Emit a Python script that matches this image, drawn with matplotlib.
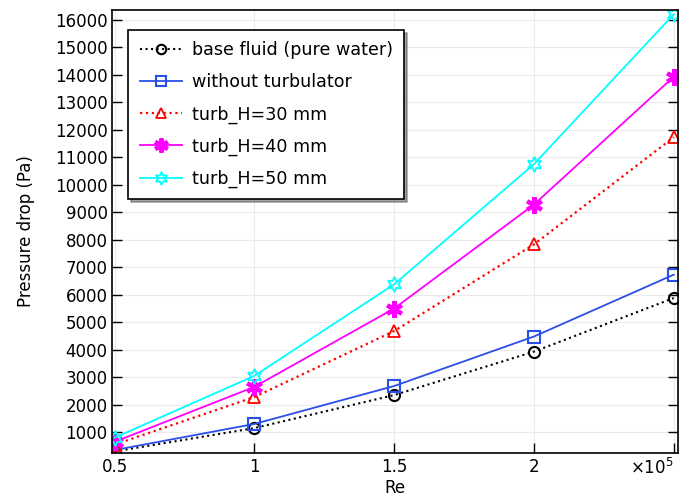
import matplotlib
matplotlib.use('Agg')
import matplotlib.pyplot as plt
import numpy as np

re_vals = [0.5, 1.0, 1.5, 2.0, 2.5]
base_fluid = [300, 1150, 2350, 3930, 5880]
no_turb = [350, 1300, 2680, 4480, 6730]
turb_30 = [550, 2280, 4680, 7830, 11730]
turb_40 = [650, 2650, 5500, 9280, 13930]
turb_50 = [800, 3050, 6380, 10750, 16200]

x_ticks = [0.5, 1, 1.5, 2, 2.5]
x_labels = ['0.5', '1', '1.5', '2', r'$\times$10$^5$']
y_ticks = np.arange(1000, 17000, 1000)

fig = plt.figure(figsize=(6.81, 4.99), dpi=100)
ax = fig.add_axes([0.165, 0.092, 0.83, 0.888])

ax.plot(re_vals, base_fluid, color='black', linestyle=':', marker='o', markersize=8,
        markerfacecolor='none', markeredgewidth=1.5, linewidth=1.5, label='base fluid (pure water)')
ax.plot(re_vals, no_turb, color='#2a4ee8', linestyle='-', marker='s', markersize=8,
        markerfacecolor='none', markeredgewidth=1.5, linewidth=1.3, label='without turbulator')
ax.plot(re_vals, turb_30, color='red', linestyle=':', marker='^', markersize=9,
        markerfacecolor='none', markeredgewidth=1.3, linewidth=1.6, label='turb_H=30 mm')
ax.plot(re_vals, turb_40, color='magenta', linestyle='-', marker=(6, 2, 0), markersize=12,
        markeredgewidth=3, linewidth=1.3, label='turb_H=40 mm')
ax.plot(re_vals, turb_50, color='cyan', linestyle='-', marker=(6, 1, 0), markersize=11,
        markerfacecolor='none', markeredgewidth=1.3, linewidth=1.3, label='turb_H=50 mm')

ax.set_xlim(0.492, 2.514)
ax.set_ylim(240, 16360)
ax.set_xticks(x_ticks)
ax.set_xticklabels(x_labels)
ax.get_xticklabels()[-1].set_horizontalalignment('right')
ax.set_yticks(y_ticks)
ax.tick_params(direction='in', length=7, labelsize=12, right=True, top=False, width=1)
ax.grid(True, color='#ebebeb', linewidth=0.8)
ax.set_axisbelow(True)
for s in ax.spines.values():
    s.set_linewidth(1.2)

ax.set_xlabel('Re', fontsize=12, labelpad=1)
ax.set_ylabel('Pressure drop (Pa)', fontsize=12, labelpad=14)

leg = ax.legend(loc='upper left', bbox_to_anchor=(0.028, 0.955), borderaxespad=0, fontsize=12.6,
                shadow=True, fancybox=False, framealpha=1, edgecolor='black', handlelength=2.4,
                handletextpad=0.6, labelspacing=0.8, borderpad=0.65, markerscale=0.85)
leg.get_frame().set_linewidth(1.2)

plt.savefig('out.png', dpi=100)
